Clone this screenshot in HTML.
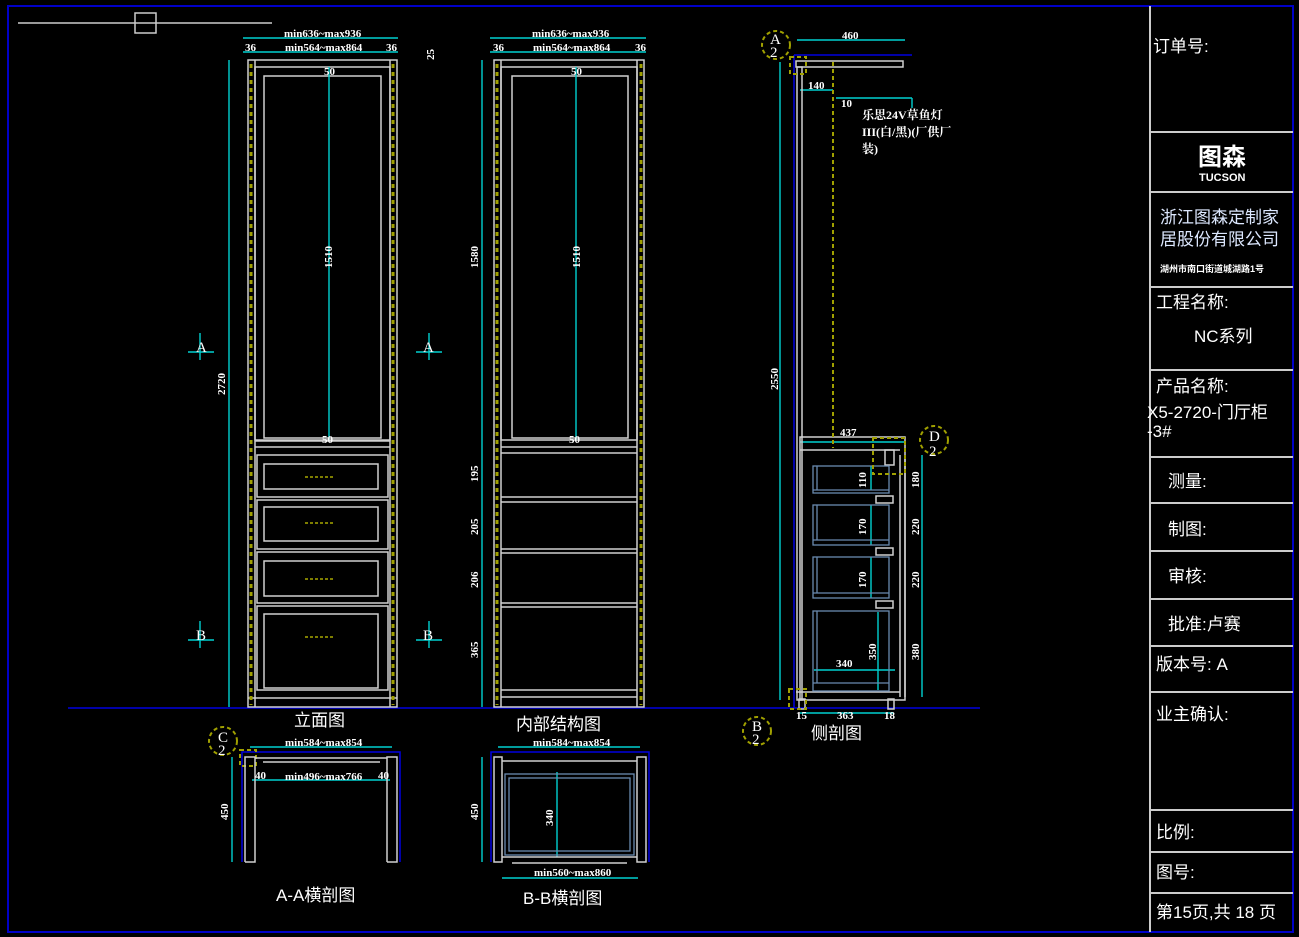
<!DOCTYPE html>
<html><head><meta charset="utf-8"><style>
html,body{margin:0;padding:0;background:#000;}
svg{display:block}
text{font-family:"Liberation Serif","Noto Serif CJK SC",serif;fill:#fff}
.cjk{font-family:"Liberation Sans","Noto Sans CJK SC",sans-serif}
</style></head><body>
<svg width="1299" height="937" viewBox="0 0 1299 937" xmlns="http://www.w3.org/2000/svg">
<rect width="1299" height="937" fill="#000"/>
<rect x="8" y="6" width="1285" height="926" fill="none" stroke="#0000c8" stroke-width="2"/>
<line x1="1150" y1="6" x2="1150" y2="932" stroke="#ccc" stroke-width="2"/>
<g stroke="#ccc" stroke-width="2">
<line x1="1150" y1="132" x2="1293" y2="132"/><line x1="1150" y1="192" x2="1293" y2="192"/>
<line x1="1150" y1="287" x2="1293" y2="287"/><line x1="1150" y1="370" x2="1293" y2="370"/>
<line x1="1150" y1="457" x2="1293" y2="457"/><line x1="1150" y1="503" x2="1293" y2="503"/>
<line x1="1150" y1="551" x2="1293" y2="551"/><line x1="1150" y1="599" x2="1293" y2="599"/>
<line x1="1150" y1="646" x2="1293" y2="646"/><line x1="1150" y1="692" x2="1293" y2="692"/>
<line x1="1150" y1="810" x2="1293" y2="810"/><line x1="1150" y1="852" x2="1293" y2="852"/>
<line x1="1150" y1="893" x2="1293" y2="893"/>
</g>
<g class="cjk" font-size="17">
<text x="1153" y="52" class="cjk">订单号:</text>
<text x="1198" y="165" font-size="24" font-weight="bold" class="cjk">图森</text>
<text x="1199" y="181" font-size="11" font-weight="bold" class="cjk">TUCSON</text>
<text x="1160" y="223" class="cjk" style="fill:#dde8ff">浙江图森定制家</text>
<text x="1160" y="245" class="cjk" style="fill:#dde8ff">居股份有限公司</text>
<text x="1160" y="272" font-size="9" font-weight="bold" class="cjk">湖州市南口街道城湖路1号</text>
<text x="1156" y="308" class="cjk">工程名称:</text>
<text x="1194" y="342" class="cjk">NC系列</text>
<text x="1156" y="392" class="cjk">产品名称:</text>
<text x="1147" y="418" class="cjk">X5-2720-门厅柜</text>
<text x="1147" y="437" class="cjk">-3#</text>
<text x="1168" y="487" class="cjk">测量:</text>
<text x="1168" y="535" class="cjk">制图:</text>
<text x="1168" y="582" class="cjk">审核:</text>
<text x="1168" y="630" class="cjk">批准:卢赛</text>
<text x="1156" y="670" class="cjk">版本号:  A</text>
<text x="1156" y="720" class="cjk">业主确认:</text>
<text x="1156" y="838" class="cjk">比例:</text>
<text x="1156" y="878" class="cjk">图号:</text>
<text x="1156" y="918" class="cjk">第15页,共 18 页</text>
</g>
<line x1="18" y1="23" x2="272" y2="23" stroke="#ccc" stroke-width="1.5"/>
<rect x="135" y="13" width="21" height="20" fill="none" stroke="#ccc" stroke-width="1.5"/>
<line x1="68" y1="708" x2="980" y2="708" stroke="#0000e0" stroke-width="1.5"/>

<g fill="none" stroke="#d0d0d0" stroke-width="1.5">
<rect x="248" y="60" width="149" height="647"/>
<rect x="255" y="67" width="135" height="373"/>
<rect x="264" y="76" width="117" height="362"/>
<line x1="255" y1="447" x2="390" y2="447"/><line x1="255" y1="441" x2="390" y2="441"/>
<rect x="257" y="455" width="131" height="42"/><rect x="264" y="464" width="114" height="25"/>
<rect x="257" y="500" width="131" height="49"/><rect x="264" y="507" width="114" height="34"/>
<rect x="257" y="552" width="131" height="51"/><rect x="264" y="561" width="114" height="35"/>
<rect x="257" y="606" width="131" height="84"/><rect x="264" y="614" width="114" height="74"/>
<line x1="248" y1="698" x2="397" y2="698"/>
<line x1="255" y1="60" x2="255" y2="707"/><line x1="390" y1="60" x2="390" y2="707"/>
</g>
<g stroke="#a0a000" stroke-width="3" stroke-dasharray="4,4">
<line x1="251" y1="64" x2="251" y2="705"/><line x1="393" y1="64" x2="393" y2="705"/>
</g>
<g stroke="#c8c800" stroke-width="1.2" stroke-dasharray="3,2">
<line x1="305" y1="477" x2="333" y2="477"/><line x1="305" y1="523" x2="333" y2="523"/>
<line x1="305" y1="579" x2="333" y2="579"/><line x1="305" y1="637" x2="333" y2="637"/>
</g>
<g fill="none" stroke="#d0d0d0" stroke-width="1.5">
<rect x="494" y="60" width="150" height="647"/>
<rect x="501" y="67" width="136" height="373"/>
<rect x="512" y="76" width="116" height="362"/>
<line x1="501" y1="447" x2="637" y2="447"/><line x1="501" y1="453" x2="637" y2="453"/>
<line x1="501" y1="497" x2="637" y2="497"/><line x1="501" y1="502" x2="637" y2="502"/>
<line x1="501" y1="549" x2="637" y2="549"/><line x1="501" y1="553" x2="637" y2="553"/>
<line x1="501" y1="603" x2="637" y2="603"/><line x1="501" y1="607" x2="637" y2="607"/>
<line x1="501" y1="690" x2="637" y2="690"/><line x1="501" y1="697" x2="637" y2="697"/>
<line x1="501" y1="60" x2="501" y2="707"/><line x1="637" y1="60" x2="637" y2="707"/>
</g>
<g stroke="#a0a000" stroke-width="3" stroke-dasharray="4,4">
<line x1="497" y1="64" x2="497" y2="705"/><line x1="641" y1="64" x2="641" y2="705"/>
</g>
<g stroke="#00d0d0" stroke-width="1.4" fill="none">
<line x1="243" y1="38" x2="398" y2="38"/><line x1="243" y1="52" x2="398" y2="52"/>
<line x1="490" y1="38" x2="646" y2="38"/><line x1="490" y1="52" x2="646" y2="52"/>
<line x1="229" y1="60" x2="229" y2="707"/><line x1="482" y1="60" x2="482" y2="707"/>
<line x1="329" y1="67" x2="329" y2="440"/><line x1="576" y1="67" x2="576" y2="440"/>
<line x1="188" y1="352" x2="214" y2="352"/><line x1="200" y1="333" x2="200" y2="360"/>
<line x1="188" y1="640" x2="214" y2="640"/><line x1="200" y1="621" x2="200" y2="648"/>
<line x1="416" y1="352" x2="442" y2="352"/><line x1="429" y1="333" x2="429" y2="360"/>
<line x1="416" y1="640" x2="442" y2="640"/><line x1="429" y1="621" x2="429" y2="648"/>
<line x1="780" y1="62" x2="780" y2="700"/>
<line x1="797" y1="40" x2="905" y2="40"/>
<line x1="800" y1="90" x2="833" y2="90"/>
<line x1="836" y1="98" x2="912" y2="98"/><line x1="912" y1="98" x2="912" y2="108"/>
<line x1="800" y1="442" x2="905" y2="442"/>
<line x1="922" y1="455" x2="922" y2="697"/>
<line x1="800" y1="713" x2="893" y2="713"/>
<line x1="814" y1="670" x2="895" y2="670"/>
<line x1="871" y1="466" x2="871" y2="490"/><line x1="871" y1="505" x2="871" y2="545"/><line x1="871" y1="557" x2="871" y2="598"/><line x1="878" y1="612" x2="878" y2="690"/>
<line x1="232" y1="757" x2="232" y2="862"/><line x1="250" y1="747" x2="392" y2="747"/><line x1="252" y1="780" x2="390" y2="780"/>
<line x1="482" y1="757" x2="482" y2="862"/><line x1="498" y1="747" x2="640" y2="747"/><line x1="502" y1="878" x2="638" y2="878"/>
<line x1="557" y1="772" x2="557" y2="857"/>
</g>
<g stroke="#0000e0" stroke-width="1.5" fill="none">
<line x1="794" y1="55" x2="794" y2="708"/><line x1="794" y1="55" x2="912" y2="55"/>
<polyline points="242,862 242,752 400,752 400,862"/>
<polyline points="491,862 491,752 649,752 649,862"/>
</g>
<g fill="none" stroke="#d0d0d0" stroke-width="1.5">
<rect x="796" y="61" width="107" height="6"/>
<rect x="797" y="67" width="5" height="633"/>
<rect x="800" y="437" width="105" height="263"/>
<line x1="800" y1="450" x2="900" y2="450"/>
<line x1="900" y1="455" x2="900" y2="697"/><line x1="905" y1="455" x2="905" y2="697"/>
<line x1="796" y1="692" x2="900" y2="692"/>
<rect x="799" y="699" width="6" height="10"/><rect x="888" y="699" width="6" height="10"/>
<rect x="885" y="450" width="9" height="15"/>
<rect x="876" y="496" width="17" height="7"/><rect x="876" y="548" width="17" height="7"/><rect x="876" y="601" width="17" height="7"/>
</g>
<g fill="none" stroke="#6a8ab0" stroke-width="1.3">
<rect x="813" y="466" width="76" height="27"/><line x1="817" y1="466" x2="817" y2="490"/><line x1="813" y1="490" x2="889" y2="490"/>
<rect x="813" y="505" width="76" height="40"/><line x1="817" y1="505" x2="817" y2="540"/><line x1="813" y1="540" x2="889" y2="540"/>
<rect x="813" y="557" width="76" height="41"/><line x1="817" y1="557" x2="817" y2="593"/><line x1="813" y1="593" x2="889" y2="593"/>
<rect x="813" y="611" width="76" height="80"/><line x1="817" y1="611" x2="817" y2="683"/><line x1="813" y1="683" x2="889" y2="683"/>
</g>
<g stroke="#a0a000" stroke-width="2" stroke-dasharray="4,3" fill="none">
<line x1="833" y1="62" x2="833" y2="448"/>
<circle cx="776" cy="45" r="14"/><rect x="790" y="57" width="16" height="17"/>
<circle cx="934" cy="440" r="14"/><rect x="873" y="438" width="32" height="36"/>
<circle cx="757" cy="731" r="14"/><rect x="789" y="689" width="17" height="20"/>
<circle cx="223" cy="741" r="14"/><rect x="240" y="750" width="16" height="16"/>
</g>
<g fill="none" stroke="#d0d0d0" stroke-width="1.5">
<polyline points="245,862 245,757 255,757 255,862 245,862"/>
<polyline points="387,862 387,757 397,757 397,862 387,862"/>
<line x1="255" y1="758" x2="387" y2="758"/><line x1="263" y1="762" x2="380" y2="762"/>
<rect x="494" y="757" width="8" height="105"/><rect x="637" y="757" width="9" height="105"/>
<line x1="502" y1="761" x2="637" y2="761"/><line x1="502" y1="857" x2="637" y2="857"/><line x1="512" y1="863" x2="627" y2="863"/>
</g>
<g fill="none" stroke="#6a8ab0" stroke-width="1.3">
<rect x="505" y="774" width="129" height="81"/><rect x="509" y="778" width="121" height="73"/>
</g>
<g font-size="11" font-weight="bold">
<text x="284" y="37">min636~max936</text><text x="285" y="51">min564~max864</text>
<text x="245" y="51">36</text><text x="386" y="51">36</text>
<text x="532" y="37">min636~max936</text><text x="533" y="51">min564~max864</text>
<text x="493" y="51">36</text><text x="635" y="51">36</text>
<text x="324" y="75">50</text><text x="571" y="75">50</text>
<text x="322" y="443">50</text><text x="569" y="443">50</text>
<text x="842" y="39">460</text><text x="808" y="89">140</text><text x="841" y="107">10</text>
<text x="840" y="436">437</text><text x="836" y="667">340</text><text x="837" y="719">363</text>
<text x="796" y="719">15</text><text x="884" y="719">18</text>
<text x="285" y="746">min584~max854</text><text x="285" y="780">min496~max766</text>
<text x="255" y="779">40</text><text x="378" y="779">40</text>
<text x="533" y="746">min584~max854</text><text x="534" y="876">min560~max860</text>
</g>
<g font-size="11" font-weight="bold">
<text transform="translate(225,395) rotate(-90)">2720</text>
<text transform="translate(332,268) rotate(-90)">1510</text>
<text transform="translate(580,268) rotate(-90)">1510</text>
<text transform="translate(478,268) rotate(-90)">1580</text>
<text transform="translate(778,390) rotate(-90)">2550</text>
<text transform="translate(478,482) rotate(-90)">195</text>
<text transform="translate(478,535) rotate(-90)">205</text>
<text transform="translate(478,588) rotate(-90)">206</text>
<text transform="translate(478,658) rotate(-90)">365</text>
<text transform="translate(866,488) rotate(-90)">110</text>
<text transform="translate(866,535) rotate(-90)">170</text>
<text transform="translate(866,588) rotate(-90)">170</text>
<text transform="translate(876,660) rotate(-90)">350</text>
<text transform="translate(919,488) rotate(-90)">180</text>
<text transform="translate(919,535) rotate(-90)">220</text>
<text transform="translate(919,588) rotate(-90)">220</text>
<text transform="translate(919,660) rotate(-90)">380</text>
<text transform="translate(228,820) rotate(-90)">450</text>
<text transform="translate(478,820) rotate(-90)">450</text>
<text transform="translate(553,826) rotate(-90)">340</text>
<text transform="translate(434,60) rotate(-90)">25</text>
</g>
<g font-size="12" font-weight="bold">
<text x="862" y="119">乐思24V草鱼灯</text>
<text x="862" y="136">III(白/黑)(厂供厂</text>
<text x="862" y="153">装)</text>
</g>
<g font-size="15">
<text x="196" y="352">A</text><text x="196" y="640">B</text>
<text x="423" y="352">A</text><text x="423" y="640">B</text>
<text x="770" y="44">A</text><text x="770" y="57">2</text>
<text x="929" y="441">D</text><text x="929" y="456">2</text>
<text x="752" y="731">B</text><text x="752" y="744">2</text>
<text x="218" y="742">C</text><text x="218" y="755">2</text>
</g>
<g class="cjk" font-size="17">
<text x="294" y="726" class="cjk">立面图</text>
<text x="516" y="730" class="cjk">内部结构图</text>
<text x="811" y="739" class="cjk">侧剖图</text>
<text x="276" y="901" class="cjk">A-A横剖图</text>
<text x="523" y="904" class="cjk">B-B横剖图</text>
</g>
</svg>
</body></html>
